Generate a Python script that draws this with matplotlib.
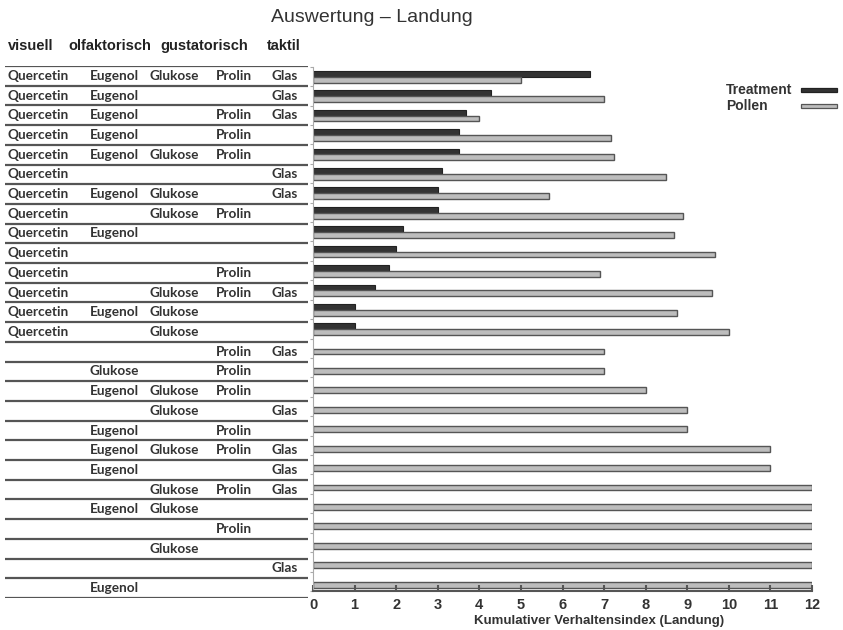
import numpy as np
import matplotlib.pyplot as plt
from matplotlib.patches import Rectangle

visuell = ["Quercetin"] * 14 + [""] * 13
olfaktorisch = ["Eugenol", "Eugenol", "Eugenol", "Eugenol", "Eugenol", "", "Eugenol", "", "Eugenol",
                "", "", "", "Eugenol", "", "", "Glukose", "Eugenol", "", "Eugenol", "Eugenol",
                "Eugenol", "", "Eugenol", "", "", "", "Eugenol"]
gustatorisch = ["Glukose", "", "", "", "Glukose", "", "Glukose", "Glukose", "", "", "", "Glukose",
                "Glukose", "Glukose", "", "", "Glukose", "Glukose", "", "Glukose", "", "Glukose",
                "Glukose", "", "Glukose", "", ""]
prolin = ["Prolin", "", "Prolin", "Prolin", "Prolin", "", "", "Prolin", "", "", "Prolin", "Prolin",
          "", "", "Prolin", "Prolin", "Prolin", "", "Prolin", "Prolin", "", "Prolin", "", "Prolin",
          "", "", ""]
taktil = ["Glas", "Glas", "Glas", "", "", "Glas", "Glas", "", "", "", "", "Glas", "", "", "Glas",
          "", "", "Glas", "", "Glas", "Glas", "Glas", "", "", "", "Glas", ""]

treatment = [6.67, 4.27, 3.67, 3.5, 3.5, 3.1, 3.0, 3.0, 2.17, 2.0, 1.83, 1.5, 1.0, 1.0]
pollen = [5.0, 7.0, 4.0, 7.17, 7.25, 8.5, 5.67, 8.9, 8.67, 9.67, 6.9, 9.6, 8.75, 10.0,
          7, 7, 8, 9, 9, 11, 11, 12, 12, 12, 12, 12, 12]

headers = ["visuell", "olfaktorisch", "gustatorisch", "taktil"]
series = ["Treatment", "Pollen"]

W, H = 843, 630
fig = plt.figure(figsize=(W / 100, H / 100), dpi=100)

n = len(pollen)
dark, dark_edge = "#333333", "#222222"
light, light_edge = "#bdbdbd", "#555555"

# bar chart
ax_bottom = (H - 591) / H
ax_top = (H - 66.7) / H
left = 313 / W
right = 812 / W
ax = fig.add_axes([left, ax_bottom, right - left, ax_top - ax_bottom])

rows = np.arange(n)
ax.barh(rows[:len(treatment)] - 0.13, treatment, height=0.3, color=dark,
        edgecolor=dark_edge, linewidth=0.8)
ax.barh(rows + 0.17, pollen, height=0.3, color=light,
        edgecolor=light_edge, linewidth=1.0)

ax.set_xlim(0, 12)
ax.set_ylim(n - 0.5, -0.5)
ax.set_xticks(range(13))
ax.set_yticks(np.arange(n + 1) - 0.5)
ax.set_yticklabels([])
ax.tick_params(axis="y", length=2, color="#aaaaaa", width=0.8)
ax.tick_params(axis="x", direction="in", length=4, width=1.5, color="#555555",
               labelsize=10.5, labelcolor="#333333", pad=5)
for lbl in ax.get_xticklabels():
    lbl.set_fontweight("bold")
    lbl.set_family("Liberation Sans")
for s in ["top", "right"]:
    ax.spines[s].set_visible(False)
ax.spines["left"].set_color("#aaaaaa")
ax.spines["bottom"].set_color("#555555")
ax.spines["bottom"].set_linewidth(1.5)
ax.set_xlabel("Kumulativer Verhaltensindex (Landung)", fontsize=9.5, fontweight="bold",
              family="Liberation Sans", color="#333333")
ax.xaxis.label.set_va("center")
ax.xaxis.set_label_coords((599 - 313) / 499, -(621 - 591) / 524.3)

# legend drawn by hand: text left aligned, swatch on the right
for k, (name, fc, ec) in enumerate(zip(series, [dark, light], [dark_edge, light_edge])):
    yc = 90 + k * 15.5
    fig.text(726 / W, 1 - yc / H, name, fontsize=10, fontweight="bold",
             family="Liberation Sans", color="#333333", va="center", ha="left")
    fig.add_artist(Rectangle((801 / W, 1 - (yc + 2) / H), 36 / W, 4 / H,
                             transform=fig.transFigure, facecolor=fc, edgecolor=ec, lw=0.9))

# table on the left, in pixel x coordinates
tab_bottom = (H - 598) / H
tab_top = (H - 66) / H
tab = fig.add_axes([0, tab_bottom, 1, tab_top - tab_bottom], zorder=-1)
tab.set_xlim(0, W)
tab.set_ylim(n - 0.5, -0.5)
tab.axis("off")
for i in range(n + 1):
    tab.plot([5, 308], [i - 0.5, i - 0.5], color="#555555", lw=1.6, solid_capstyle="butt")

cols = [(8, visuell), (90, olfaktorisch), (150, gustatorisch), (216, prolin), (271, taktil)]
for x, col in cols:
    for i, txt in enumerate(col):
        if txt:
            tab.text(x, i, txt, fontsize=9.8, fontweight="bold", family="Lato",
                     color="#333333", va="center", ha="left")

hx = [8, 68, 160, 267]
for x, h in zip(hx, headers):
    fig.text(x / W, 1 - 46 / H, h, fontsize=10.5, fontweight="bold", family="Liberation Sans",
             color="#222222", va="center", ha="left")

fig.text(372 / W, 1 - 18 / H, "Auswertung – Landung", fontsize=14, family="Liberation Sans",
         color="#333333", va="center", ha="center")

fig.savefig("out.png", dpi=100)
